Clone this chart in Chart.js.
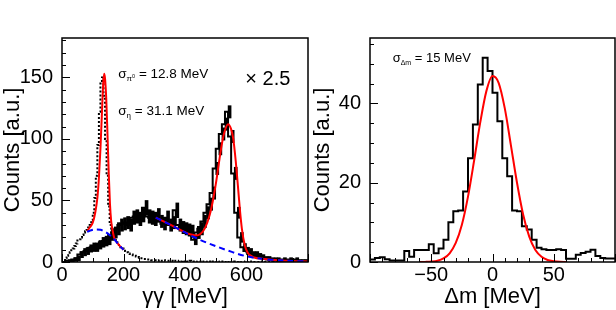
<!DOCTYPE html>
<html>
<head>
<meta charset="utf-8">
<script src="https://cdn.jsdelivr.net/npm/chart.js@4.4.0/dist/chart.umd.min.js"></script>
<style>
  html, body { margin: 0; padding: 0; background: #fff; }
  #wrap { position: relative; width: 616px; height: 310px; }
  canvas { position: absolute; top: 0; }
  #ggChart { left: 0; }
  #dmChart { left: 310px; }
</style>
</head>
<body>
<div id="wrap">
  <canvas id="ggChart" width="310" height="310" style="width:310px;height:310px"></canvas>
  <canvas id="dmChart" width="306" height="310" style="width:306px;height:310px"></canvas>
</div>
<script>
const FONT = "'Liberation Sans', Arial, Helvetica, sans-serif";

// ---- left panel: gamma gamma invariant mass ----
const ggRange = [0, 800];
const ggYMax = 182;
const ggXTicks = [0, 200, 400, 600];
const ggYTicks = [0, 50, 100, 150];

// solid histogram (eta selection), 10 MeV bins
const etaBinW = 10;
const etaCounts = [
  0, 0, 1, 1, 2, 3, 6, 8, 9, 11,
  12, 12, 14, 16, 17, 18, 22, 24, 27, 30,
  31, 32, 30, 36, 37, 35, 38, 44, 37, 36,
  35, 38, 33, 31, 36, 30, 32, 42, 30, 28,
  27, 26, 25, 18, 24, 27, 33, 40, 47, 56,
  76, 92, 104, 112, 122, 102, 72, 40, 20, 12,
  9, 8, 6, 6, 5, 4, 3, 3, 2, 2,
  2, 1, 2, 1, 2, 1, 2, 1, 1, 1
];
const etaErr = [
  0, 0, 1, 1, 1.5, 2, 2.5, 3, 3, 3,
  3.5, 3.5, 3.5, 4, 4, 4, 4.5, 4.5, 5, 5,
  5, 5, 5, 5.5, 5.5, 5.5, 5.5, 6, 5.5, 5.5,
  5.5, 5.5, 5, 5, 5.5, 5, 5, 6, 5, 5,
  5, 5, 5, 4, 5, 5, 5, 5, 5, 5,
  5, 5, 5, 5, 5, 5, 5, 4.5, 4, 3,
  3, 3, 2.5, 2.5, 2, 2, 1.5, 1.5, 1.5, 1.5,
  1.5, 1, 1.5, 1, 1.5, 1, 1.5, 1, 1, 1
];

// dotted histogram (pi0 selection, x 2.5), 5 MeV bins
const piBinW = 5;
const piCounts = [
  0, 0, 1.5, 3, 5, 6.5, 8, 9.5, 11, 13,
  15, 17.5, 18.5, 20, 22, 24, 25, 26, 28, 30,
  34, 40, 52, 70, 95, 122, 145, 150, 135, 100,
  70, 45, 30, 23, 20, 18, 16, 15, 13, 12,
  11, 10, 9, 8, 7, 6.5, 6, 5.5, 5, 4.5,
  4, 3.5, 3, 3, 2.5, 2.5, 2, 2, 2, 1.5,
  1.5, 1.5, 1.5, 1, 1.5, 1, 1, 1.5, 1, 1,
  1, 1, 1, 0.5, 1, 1, 0.5, 1, 0.5, 1,
  0.5, 1, 0.5, 0.5, 1, 0.5, 0.5, 0.5, 0, 0.5,
  0.5, 0.5, 0, 0.5, 0.5, 0, 0.5, 0.5, 0, 0.5,
  0.5, 0, 0.5, 0, 0.5, 0.5, 0, 0, 0.5, 0,
  0.5, 0, 0, 0.5, 0, 0, 0.5, 0, 0, 0,
  0.5, 0, 0, 0, 0.5, 0, 0, 0, 0, 0,
  0, 0.5, 0, 0, 0, 0, 0, 0, 0, 0,
  0, 0, 0, 0, 0, 0, 0, 0, 0, 0,
  0, 0, 0, 0, 0, 0, 0, 0, 0, 0
];

// fit curves
const pi0FitX = [82, 90, 100, 108, 115, 120, 125, 130, 134, 137, 140, 144, 148, 152, 156, 160, 165, 170, 185, 200];
const pi0FitY = [25, 28, 32, 40, 52, 68, 92, 122, 145, 153, 149, 132, 103, 72, 47, 33, 25, 19.5, 14, 10];
const pi0BkgX = [82, 95, 110, 125, 140, 155, 170, 185, 200];
const pi0BkgY = [24.5, 25.8, 26.5, 26.2, 24.5, 22, 18.5, 14, 10];
const etaFitX = [305, 340, 370, 400, 420, 435, 450, 465, 480, 490, 500, 510, 520, 530, 540, 550, 557, 565, 572, 578, 585, 595, 605, 615, 625, 650, 700, 750, 800];
const etaFitY = [36, 31.8, 28, 24.3, 22.3, 21.6, 22.8, 27.5, 38, 49, 63, 80, 96, 107, 112, 108, 100, 82, 62, 44, 27, 13, 7, 5, 3.7, 2.6, 1.5, 0.8, 0.4];
const etaBkgX = [305, 340, 370, 400, 427, 460, 502, 550, 600, 650, 700, 750, 800];
const etaBkgY = [36, 31.8, 28, 24, 20.5, 16.8, 12.7, 8.4, 4.6, 2.6, 1.5, 0.8, 0.4];

// ---- right panel: mass difference ----
const dmRange = [-100, 100];
const dmYMax = 56.5;
const dmXTicks = [-50, 0, 50];
const dmYTicks = [0, 20, 40];
const dmBinW = 4;
const dmCounts = [
  0.5, 0.6, 1.0, 1.2, 0.7, 0.4, 0.4, 0.4, 2.8, 1.3,
  3.0, 3.0, 3.0, 4.5, 2.2, 3.4, 5.6, 10, 12.8, 13,
  17.8, 26.2, 34.7, 44.8, 51.5, 48.2, 42.7, 35.5, 26.2, 21.6,
  13, 12.8, 9, 8.2, 5.6, 3.6, 3.2, 3.0, 3.0, 3.2,
  3.0, 0.8, 0.8, 1.8, 2.3, 2.6, 3.1, 1.5, 1.0, 0.9
];
const dmFitX = [-60, -55, -50, -45, -40, -35, -30, -25, -20, -15, -10, -5, 0, 5, 10, 15, 20, 25, 30, 35, 40, 45, 50, 55, 60];
const dmFitY = [0, 0.03, 0.1, 0.3, 0.9, 2.2, 4.8, 9.4, 16.5, 25.6, 35.2, 43.1, 46.9, 45.2, 38.8, 29.5, 20, 12, 6.4, 3, 1.3, 0.5, 0.2, 0.05, 0];

// helpers
function histPoints(lo, w, counts) {
  const pts = counts.map((c, i) => ({ x: lo + i * w, y: c }));
  pts.push({ x: lo + counts.length * w, y: counts[counts.length - 1] });
  return pts;
}
const xy = (xs, ys) => xs.map((x, i) => ({ x, y: ys[i] }));

function isMajor(v, step) {
  const r = v / step;
  return Math.abs(r - Math.round(r)) < 1e-6;
}

// ROOT-like frame: box, inward ticks, text labels
const rootFrame = {
  id: 'rootFrame',
  afterDatasetsDraw(chart, args, opts) {
    const { ctx, chartArea: a, scales: { x, y } } = chart;
    ctx.save();
    ctx.strokeStyle = '#000';
    ctx.lineWidth = 1;
    ctx.beginPath();
    for (let v = x.min; v <= x.max + 1e-9; v += opts.xMinor) {
      const px = Math.round(x.getPixelForValue(v)) + 0.5;
      const len = isMajor(v, opts.xMajor) ? 8 : 4;
      ctx.moveTo(px, a.bottom);
      ctx.lineTo(px, a.bottom - len);
    }
    for (let v = y.min; v <= y.max + 1e-9; v += opts.yMinor) {
      const py = Math.round(y.getPixelForValue(v)) + 0.5;
      const len = isMajor(v, opts.yMajor) ? 8 : 4;
      ctx.moveTo(a.left, py);
      ctx.lineTo(a.left + len, py);
    }
    ctx.stroke();
    ctx.lineWidth = 1.5;
    ctx.strokeRect(a.left, a.top, a.right - a.left, a.bottom - a.top);

    ctx.fillStyle = '#000';
    ctx.textBaseline = 'alphabetic';
    ctx.textAlign = 'left';
    (opts.labels || []).forEach(lab => {
      let px = x.getPixelForValue(lab.x);
      const py = y.getPixelForValue(lab.y);
      lab.parts.forEach(([t, size, dy]) => {
        ctx.font = size + 'px ' + FONT;
        ctx.fillText(t, px, py + dy);
        px += ctx.measureText(t).width;
      });
    });
    ctx.restore();
  }
};

function axis(range, ticks, fit, title, isX) {
  return {
    type: 'linear',
    min: range[0],
    max: range[1],
    offset: false,
    grid: { display: false },
    border: { display: false },
    afterBuildTicks: s => { s.ticks = ticks.map(v => ({ value: v })); },
    afterFit: s => { if (isX) s.height = fit; else s.width = fit; },
    ticks: {
      color: '#000',
      font: { family: FONT, size: 20 },
      padding: isX ? -7 : 1,
      maxRotation: 0,
      autoSkip: false,
      callback: v => String(v).replace('-', '\u2212')
    },
    title: {
      display: true,
      text: title,
      color: '#000',
      font: { family: FONT, size: 22 },
      padding: 0
    }
  };
}

const commonOpts = {
  responsive: false,
  animation: false,
  events: [],
  plugins: { legend: { display: false }, tooltip: { enabled: false } }
};

new Chart(document.getElementById('ggChart'), {
  type: 'line',
  data: {
    datasets: [
      {
        data: xy(etaBkgX, etaBkgY),
        borderColor: '#0000ff', borderWidth: 2, borderDash: [6, 4],
        pointRadius: 0, cubicInterpolationMode: 'monotone', order: 1
      },
      {
        data: xy(pi0BkgX, pi0BkgY),
        borderColor: '#0000ff', borderWidth: 2, borderDash: [6, 4],
        pointRadius: 0, cubicInterpolationMode: 'monotone', order: 1
      },
      {
        data: xy(etaFitX, etaFitY),
        borderColor: '#ff0000', borderWidth: 2,
        pointRadius: 0, cubicInterpolationMode: 'monotone', order: 2
      },
      {
        data: xy(pi0FitX, pi0FitY),
        borderColor: '#ff0000', borderWidth: 2,
        pointRadius: 0, cubicInterpolationMode: 'monotone', order: 2
      },
      {
        data: histPoints(ggRange[0], etaBinW, etaCounts),
        borderColor: '#000', borderWidth: 2, stepped: 'after',
        pointRadius: 0, order: 3
      },
      {
        type: 'bar',
        data: etaCounts.map((c, i) => ({ x: ggRange[0] + (i + 0.5) * etaBinW, y: [c - etaErr[i], c + etaErr[i]] })),
        backgroundColor: '#000', borderWidth: 0, barThickness: 3, grouped: false, order: 4
      },
      {
        data: histPoints(ggRange[0], piBinW, piCounts),
        borderColor: '#000', borderWidth: 2, borderDash: [2, 2], stepped: 'after',
        pointRadius: 0, order: 5
      }
    ]
  },
  options: Object.assign({}, commonOpts, {
    layout: { padding: { top: 38, right: 2, left: 0, bottom: 0 } },
    scales: {
      x: axis(ggRange, ggXTicks, 48, '\u03b3\u03b3 [MeV]', true),
      y: axis([0, ggYMax], ggYTicks, 62, 'Counts [a.u.]', false)
    },
    plugins: Object.assign({}, commonOpts.plugins, {
      rootFrame: {
        xMinor: 50, xMajor: 200, yMinor: 10, yMajor: 50,
        labels: [
          { x: 183, y: 149.5, parts: [['\u03c3', 13.5, 0], ['\u03c0', 8, 3], ['0', 5.5, 0], [' = 12.8 MeV', 13.5, 0]] },
          { x: 183, y: 119.4, parts: [['\u03c3', 13.5, 0], ['\u03b7', 8, 3], [' = 31.1 MeV', 13.5, 0]] },
          { x: 596, y: 143.8, parts: [['\u00d7 2.5', 20, 0]] }
        ]
      }
    })
  }),
  plugins: [rootFrame]
});

new Chart(document.getElementById('dmChart'), {
  type: 'line',
  data: {
    datasets: [
      {
        data: xy(dmFitX, dmFitY),
        borderColor: '#ff0000', borderWidth: 2,
        pointRadius: 0, cubicInterpolationMode: 'monotone', order: 1
      },
      {
        data: histPoints(dmRange[0], dmBinW, dmCounts),
        borderColor: '#000', borderWidth: 2, stepped: 'after',
        pointRadius: 0, order: 2
      }
    ]
  },
  options: Object.assign({}, commonOpts, {
    layout: { padding: { top: 38, right: 1, left: 0, bottom: 0 } },
    scales: {
      x: axis(dmRange, dmXTicks, 48, '\u0394m [MeV]', true),
      y: axis([0, dmYMax], dmYTicks, 60, 'Counts [a.u.]', false)
    },
    plugins: Object.assign({}, commonOpts.plugins, {
      rootFrame: {
        xMinor: 10, xMajor: 50, yMinor: 5, yMajor: 20,
        labels: [
          { x: -81.5, y: 50.5, parts: [['\u03c3', 13, 0], ['\u0394m', 7, 3], [' = 15 MeV', 13, 0]] }
        ]
      }
    })
  }),
  plugins: [rootFrame]
});
</script>
</body>
</html>
